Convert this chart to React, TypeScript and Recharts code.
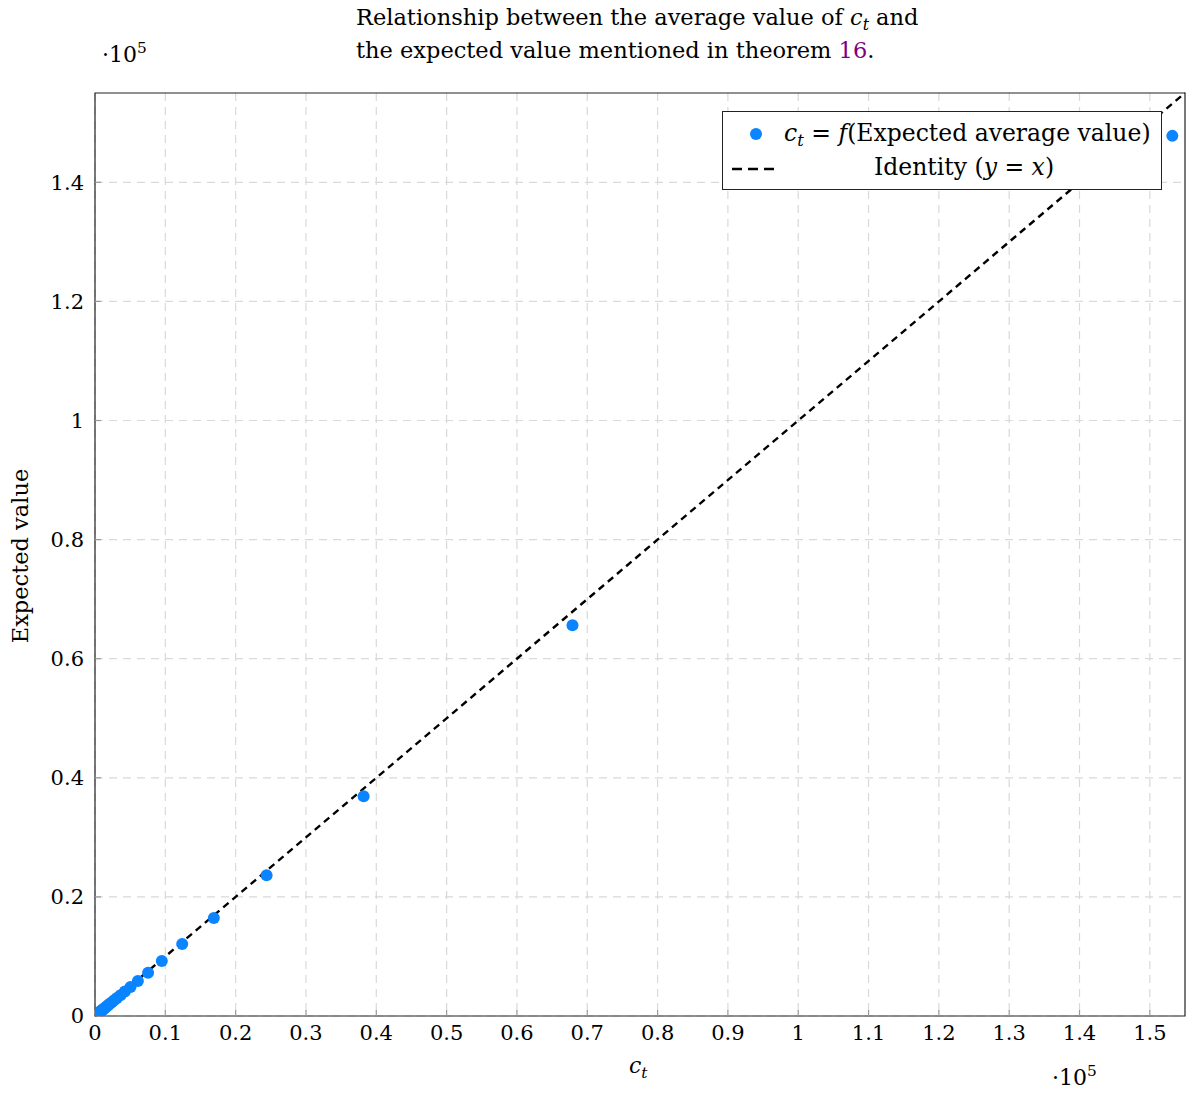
import React from 'react';
import { ScatterChart, Scatter, XAxis, YAxis, CartesianGrid, ReferenceLine, ReferenceArea } from 'recharts';

const ctValues = [153200, 67900, 38200, 24400, 16900, 12400, 9500, 7550, 6100, 5050, 4250, 3620, 3120, 2720, 2390, 2120, 1890, 1700, 1530, 1390, 1260, 1150, 1050, 960, 880, 810, 750, 690, 640, 590, 500, 400, 300, 200, 100, 40, 10];
const expectedValues = [147800, 65600, 36900, 23650, 16450, 12080, 9230, 7250, 5880, 4880, 4110, 3500, 3020, 2630, 2310, 2050, 1830, 1640, 1480, 1340, 1220, 1110, 1015, 930, 850, 785, 725, 667, 620, 570, 484, 387, 290, 193, 97, 39, 10];
const xTicks = [0, 10000, 20000, 30000, 40000, 50000, 60000, 70000, 80000, 90000, 100000, 110000, 120000, 130000, 140000, 150000];
const yTicks = [0, 20000, 40000, 60000, 80000, 100000, 120000, 140000];
const axisMax = 155000;
const identityLine = [{ x: 0, y: 0 }, { x: axisMax, y: axisMax }];

const points = ctValues.map((c, i) => ({ x: c, y: expectedValues[i] }));

const FONT = "'DejaVu Serif', 'Liberation Serif', serif";
const BLUE = '#0a84ff';

const fmt = (v: number) => {
  const s = (v / 100000).toFixed(1);
  return s.endsWith('.0') ? s.slice(0, -2) : s;
};

const Dot = (props: any) => <circle cx={props.cx} cy={props.cy} r={6} fill={BLUE} />;

const tickStyle = { fontSize: 21, fill: '#000', fontFamily: FONT };

const Sub = ({ children }: { children: React.ReactNode }) => (
  <span style={{ fontSize: '0.7em', fontStyle: 'italic', position: 'relative', top: 5 }}>{children}</span>
);
const Sup = ({ children }: { children: React.ReactNode }) => (
  <span style={{ fontSize: '0.7em', position: 'relative', top: -9 }}>{children}</span>
);

export default function App() {
  return (
    <div style={{ position: 'absolute', left: 0, top: 0, width: 1187, height: 1093, background: '#fff', fontFamily: FONT, color: '#000' }}>
      <ScatterChart width={1187} height={1093} margin={{ top: 93, right: 2, bottom: 37, left: 35 }}>
        <CartesianGrid stroke="#d9d9d9" strokeDasharray="8 6" strokeWidth={1.2} verticalValues={xTicks} horizontalValues={yTicks} />
        <XAxis type="number" dataKey="x" domain={[0, axisMax]} ticks={xTicks} tickFormatter={fmt} allowDataOverflow
          axisLine={false} tickLine={{ stroke: '#999', strokeWidth: 1.2 }} tickSize={-6} tickMargin={15} height={40} tick={tickStyle} interval={0} />
        <XAxis xAxisId="top" orientation="top" type="number" dataKey="x" domain={[0, axisMax]} ticks={xTicks} tickFormatter={() => ''} allowDataOverflow
          axisLine={false} tickLine={{ stroke: '#999', strokeWidth: 1.2 }} tickSize={-6} height={0} interval={0} />
        <YAxis type="number" dataKey="y" domain={[0, axisMax]} ticks={yTicks} tickFormatter={fmt} allowDataOverflow
          axisLine={false} tickLine={{ stroke: '#999', strokeWidth: 1.2 }} tickSize={-6} tickMargin={17} width={60} tick={tickStyle} interval={0} />
        <YAxis yAxisId="right" orientation="right" type="number" dataKey="y" domain={[0, axisMax]} ticks={yTicks} tickFormatter={() => ''} allowDataOverflow
          axisLine={false} tickLine={{ stroke: '#999', strokeWidth: 1.2 }} tickSize={-6} width={0} interval={0} />
        <ReferenceLine segment={identityLine} stroke="#000" strokeWidth={2.4} strokeDasharray="7 5" />
        <Scatter data={points} shape={Dot} isAnimationActive={false} />
        <ReferenceArea x1={0} x2={axisMax} y1={0} y2={axisMax} fill="none" stroke="#222" strokeWidth={1.2} />
      </ScatterChart>

      {/* Title */}
      <div style={{ position: 'absolute', left: 356, top: 2, fontSize: 22.5, lineHeight: '30px', whiteSpace: 'nowrap' }}>
        <div>Relationship between the average value of <i>c</i><Sub>t</Sub> and</div>
        <div>the expected value mentioned in theorem <span style={{ color: '#800080' }}>16</span>.</div>
      </div>

      {/* scale labels */}
      <div style={{ position: 'absolute', left: 102, top: 41, fontSize: 22, lineHeight: '28px', whiteSpace: 'nowrap' }}>
        ·10<Sup>5</Sup>
      </div>
      <div style={{ position: 'absolute', left: 1052, top: 1064, fontSize: 22, lineHeight: '28px', whiteSpace: 'nowrap' }}>
        ·10<Sup>5</Sup>
      </div>

      {/* axis labels */}
      <div style={{ position: 'absolute', left: 629, top: 1052, fontSize: 22, lineHeight: '28px', whiteSpace: 'nowrap' }}>
        <i>c</i><Sub>t</Sub>
      </div>
      <div style={{ position: 'absolute', left: 20, top: 556, width: 0, height: 0 }}>
        <div style={{ position: 'absolute', left: 0, top: 0, transform: 'translate(-50%, -50%) rotate(-90deg)', fontSize: 22.5, whiteSpace: 'nowrap' }}>
          Expected value
        </div>
      </div>

      {/* Legend */}
      <div style={{ position: 'absolute', left: 722, top: 111, width: 440, height: 79, border: '1.2px solid #222', background: '#fff', boxSizing: 'border-box', fontSize: 23.5, lineHeight: '28px' }}>
        <div style={{ position: 'absolute', left: 27, top: 16, width: 12, height: 12, borderRadius: 6, background: BLUE }} />
        <div style={{ position: 'absolute', left: 61, top: 7, whiteSpace: 'nowrap' }}>
          <i>c</i><Sub>t</Sub> = <i>f</i>(Expected average value)
        </div>
        <svg style={{ position: 'absolute', left: 9, top: 54 }} width={42} height={6}>
          <line x1={0} y1={3} x2={42} y2={3} stroke="#000" strokeWidth={2.4} strokeDasharray="10 6" />
        </svg>
        <div style={{ position: 'absolute', left: 151, top: 41, whiteSpace: 'nowrap' }}>
          Identity (<i>y</i> = <i>x</i>)
        </div>
      </div>
    </div>
  );
}
